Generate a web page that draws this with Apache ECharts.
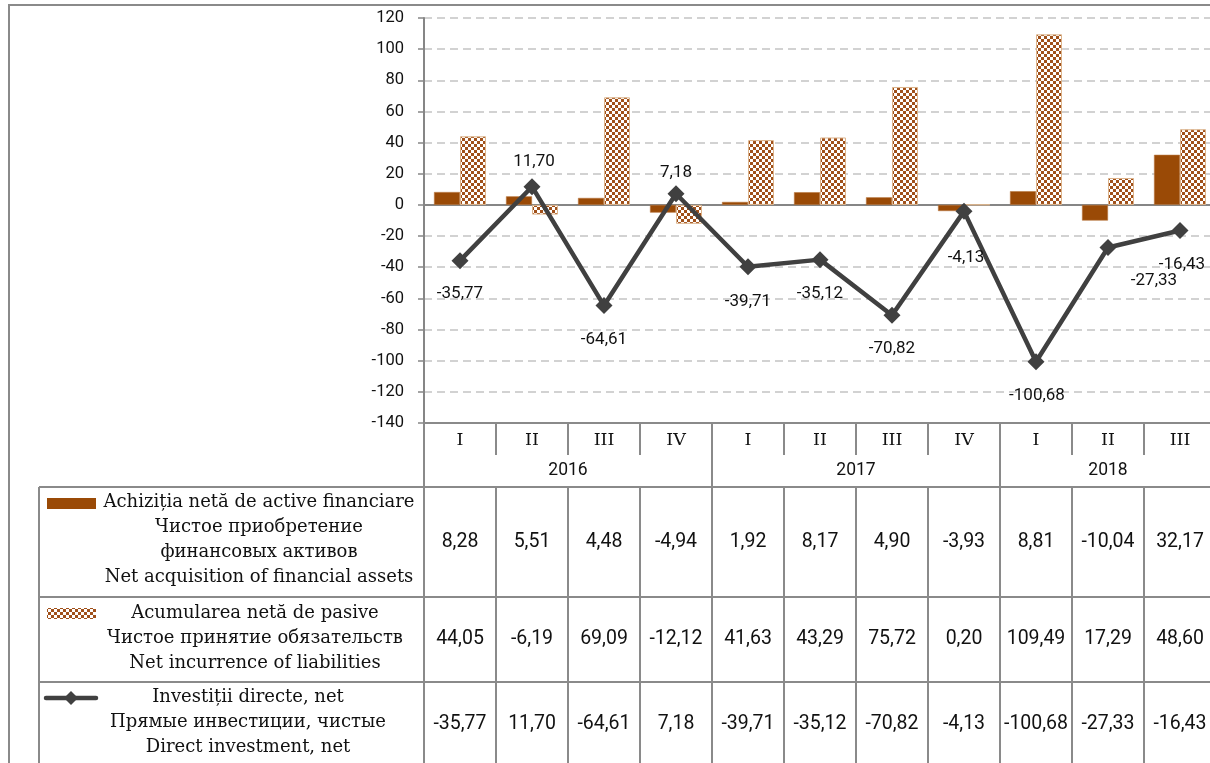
<!DOCTYPE html>
<html>
<head>
<meta charset="utf-8">
<script src="https://cdn.jsdelivr.net/npm/echarts@6/dist/echarts.min.js"></script>
<style>
  html, body { margin: 0; padding: 0; background: #fff; }
  #chart { width: 1210px; height: 763px; }
</style>
</head>
<body>
<div id="chart"></div>
<script>
// quarters / years on the category axis
const quarters = ['I', 'II', 'III', 'IV', 'I', 'II', 'III', 'IV', 'I', 'II', 'III'];
const years = ['2016', '2017', '2018'];
const yearSpans = [4, 4, 3];

// series values (mil. USD)
const acquisition = [8.28, 5.51, 4.48, -4.94, 1.92, 8.17, 4.90, -3.93, 8.81, -10.04, 32.17];
const liabilities = [44.05, -6.19, 69.09, -12.12, 41.63, 43.29, 75.72, 0.20, 109.49, 17.29, 48.60];
const directInv = [-35.77, 11.70, -64.61, 7.18, -39.71, -35.12, -70.82, -4.13, -100.68, -27.33, -16.43];

// value axis ticks
const yMin = -140;
const yMax = 120;
const yStep = 20;

// series names (ro / ru / en)
const nameAcq = ['Achiziția netă de active financiare', 'Чистое приобретение', 'финансовых активов', 'Net acquisition of financial assets'];
const nameLiab = ['Acumularea netă de pasive', 'Чистое принятие обязательств', 'Net incurrence of liabilities'];
const nameDirect = ['Investiții directe, net', 'Прямые инвестиции, чистые', 'Direct investment, net'];

// label nudges for the line (px), like the hand-moved labels in the source
const labelOffsets = [[0, 33], [2, -25], [0, 34], [0, -21], [0, 35], [0, 34], [0, 34], [2, 46], [1, 34], [46, 33], [2, 34]];

const SANS = 'Roboto';
const SERIF = 'DejaVu Serif';
const GRID_LINE = '#8a8a8a';
const BROWN = '#9a4a06';
const DARK = '#404040';

const fmt = (v) => v.toFixed(2).replace('.', ',');

// checker pattern for the liabilities bars
function makePattern() {
  const c = document.createElement('canvas');
  c.width = 6;
  c.height = 6;
  const g = c.getContext('2d');
  g.fillStyle = '#ffffff';
  g.fillRect(0, 0, 6, 6);
  g.fillStyle = '#a0501a';
  g.fillRect(0, 0, 3, 3);
  g.fillRect(3, 3, 3, 3);
  return c;
}
const pattern = { image: makePattern(), repeat: 'repeat' };

const chart = echarts.init(document.getElementById('chart'), null, { renderer: 'canvas' });

// table row edges, in px from the plot bottom
const rowEdges = [0, 32, 64, 174, 259, 344];

const seg = (x1, y1, x2, y2) => ({
  type: 'line',
  shape: { x1, y1, x2, y2 },
  style: { stroke: GRID_LINE, lineWidth: 2 },
});
const txt = (text, x, y, family, size) => ({
  type: 'text',
  style: {
    text, x, y,
    textAlign: 'center',
    textVerticalAlign: 'middle',
    fontFamily: family,
    fontSize: size,
    fill: '#111',
  },
});

function renderQuarter(params, api) {
  const i = params.dataIndex;
  const top = api.coord([i, rowEdges[0]]);
  const bot = api.coord([i, rowEdges[1]])[1];
  const w = api.size([1, 0])[0];
  const x0 = top[0] - w / 2;
  return {
    type: 'group',
    children: [
      seg(x0, top[1], x0 + w, top[1]),
      seg(x0, top[1], x0, bot),
      txt(quarters[i], top[0], (top[1] + bot) / 2 + 1, SERIF, 17.5),
    ],
  };
}

const yearStarts = yearSpans.map((s, k) => yearSpans.slice(0, k).reduce((a, b) => a + b, 0));

function renderYear(params, api) {
  const k = params.dataIndex;
  const w = api.size([1, 0])[0];
  const start = yearStarts[k];
  const x0 = api.coord([start, 0])[0] - w / 2;
  const x1 = api.coord([start + yearSpans[k] - 1, 0])[0] + w / 2;
  const yTop = api.coord([start, rowEdges[0]])[1];
  const yMid = api.coord([start, rowEdges[1]])[1];
  const yBot = api.coord([start, rowEdges[2]])[1];
  return {
    type: 'group',
    children: [
      seg(x0, yTop, x0, yBot),
      seg(x0, yBot, x1, yBot),
      txt(years[k], (x0 + x1) / 2, (yMid + yBot) / 2, SANS, 17.5),
    ],
  };
}

function rowRenderer(row) {
  return function (params, api) {
    const i = params.dataIndex;
    const w = api.size([1, 0])[0];
    const cx = api.coord([i, 0])[0];
    const y0 = api.coord([i, rowEdges[2 + row]])[1];
    const y1 = api.coord([i, rowEdges[3 + row]])[1];
    return {
      type: 'group',
      children: [
        {
          type: 'rect',
          shape: { x: cx - w / 2, y: y0, width: w, height: y1 - y0 },
          style: { fill: 'none', stroke: GRID_LINE, lineWidth: 2 },
        },
        txt(fmt(api.value(1)), cx, (y0 + y1) / 2, SANS, 19.5),
      ],
    };
  };
}

const tableRows = [acquisition, liabilities, directInv];

const option = {
  animation: false,
  backgroundColor: '#fff',
  grid: [
    { left: 424, top: 18, width: 792, height: 405, outerBoundsMode: 'none', containLabel: false },
    { left: 424, top: 423, width: 792, height: 344, outerBoundsMode: 'none', containLabel: false },
  ],
  xAxis: [
    {
      type: 'category',
      gridIndex: 0,
      data: quarters,
      axisLine: { onZero: true, lineStyle: { color: '#868686', width: 2 } },
      axisTick: { show: false },
      axisLabel: { show: false },
      splitLine: { show: false },
    },
    {
      type: 'category',
      gridIndex: 1,
      data: quarters,
      show: false,
    },
  ],
  yAxis: [
    {
      type: 'value',
      gridIndex: 0,
      min: yMin,
      max: yMax,
      interval: yStep,
      axisLine: { show: true, lineStyle: { color: '#868686', width: 2 } },
      axisTick: { show: true, length: 6, lineStyle: { color: '#868686', width: 1.5 } },
      axisLabel: { fontFamily: SANS, fontSize: 16.5, color: '#111', margin: 20 },
      splitLine: { lineStyle: { color: '#c4c4c4', width: 1.5, type: [8, 5] } },
    },
    {
      type: 'value',
      gridIndex: 1,
      min: rowEdges[0],
      max: rowEdges[rowEdges.length - 1],
      inverse: true,
      show: false,
    },
  ],
  series: [
    {
      name: nameAcq.join(' / '),
      type: 'bar',
      xAxisIndex: 0,
      yAxisIndex: 0,
      data: acquisition,
      barWidth: 26,
      barGap: '0%',
      itemStyle: { color: BROWN, borderColor: '#b8773f', borderWidth: 0.6 },
    },
    {
      name: nameLiab.join(' / '),
      type: 'bar',
      xAxisIndex: 0,
      yAxisIndex: 0,
      data: liabilities,
      barWidth: 26,
      barGap: '0%',
      itemStyle: { color: pattern, borderColor: '#dcb48c', borderWidth: 1 },
    },
    {
      name: nameDirect.join(' / '),
      type: 'line',
      xAxisIndex: 0,
      yAxisIndex: 0,
      z: 5,
      data: directInv.map((v, i) => ({ value: v, label: { offset: labelOffsets[i] } })),
      symbol: 'diamond',
      symbolSize: 17,
      lineStyle: { color: DARK, width: 4.5 },
      itemStyle: { color: DARK },
      label: {
        show: true,
        position: 'inside',
        formatter: (p) => fmt(p.value),
        fontFamily: SANS,
        fontSize: 17,
        color: '#111',
      },
    },
    {
      type: 'custom',
      xAxisIndex: 1,
      yAxisIndex: 1,
      silent: true,
      data: quarters.map((q, i) => [i, 0]),
      renderItem: renderQuarter,
    },
    {
      type: 'custom',
      xAxisIndex: 1,
      yAxisIndex: 1,
      silent: true,
      data: years.map((y, k) => [yearStarts[k], 0]),
      renderItem: renderYear,
    },
    ...tableRows.map((vals, r) => ({
      type: 'custom',
      xAxisIndex: 1,
      yAxisIndex: 1,
      silent: true,
      data: vals.map((v, i) => [i, v]),
      renderItem: rowRenderer(r),
    })),
  ],
  graphic: [
    // outer frame of the chart area
    {
      type: 'polyline',
      shape: { points: [[9, 780], [9, 5], [1215, 5]] },
      style: { stroke: GRID_LINE, lineWidth: 2, fill: null },
      silent: true,
    },
    // legend column of the data table
    { type: 'line', shape: { x1: 39, y1: 487, x2: 39, y2: 780 }, style: { stroke: GRID_LINE, lineWidth: 2 } },
    { type: 'line', shape: { x1: 39, y1: 487, x2: 424, y2: 487 }, style: { stroke: GRID_LINE, lineWidth: 2 } },
    { type: 'line', shape: { x1: 39, y1: 597, x2: 424, y2: 597 }, style: { stroke: GRID_LINE, lineWidth: 2 } },
    { type: 'line', shape: { x1: 39, y1: 682, x2: 424, y2: 682 }, style: { stroke: GRID_LINE, lineWidth: 2 } },
    { type: 'rect', shape: { x: 47, y: 498, width: 49, height: 11 }, style: { fill: BROWN } },
    { type: 'rect', shape: { x: 47, y: 608, width: 49, height: 11 }, style: { fill: pattern } },
    { type: 'line', shape: { x1: 46, y1: 698, x2: 96, y2: 698 }, style: { stroke: DARK, lineWidth: 4.5, lineCap: 'round' } },
    { type: 'polygon', shape: { points: [[71, 691], [78, 698], [71, 705], [64, 698]] }, style: { fill: DARK } },
    {
      type: 'text',
      style: { text: nameAcq.join('\n'), x: 259, y: 540, textAlign: 'center', textVerticalAlign: 'middle', fontFamily: SERIF, fontSize: 18, lineHeight: 25, fill: '#111' },
    },
    {
      type: 'text',
      style: { text: nameLiab.join('\n'), x: 255, y: 638, textAlign: 'center', textVerticalAlign: 'middle', fontFamily: SERIF, fontSize: 18, lineHeight: 25, fill: '#111' },
    },
    {
      type: 'text',
      style: { text: nameDirect.join('\n'), x: 248, y: 722, textAlign: 'center', textVerticalAlign: 'middle', fontFamily: SERIF, fontSize: 18, lineHeight: 25, fill: '#111' },
    },
  ],
};

chart.setOption(option);
</script>
</body>
</html>
